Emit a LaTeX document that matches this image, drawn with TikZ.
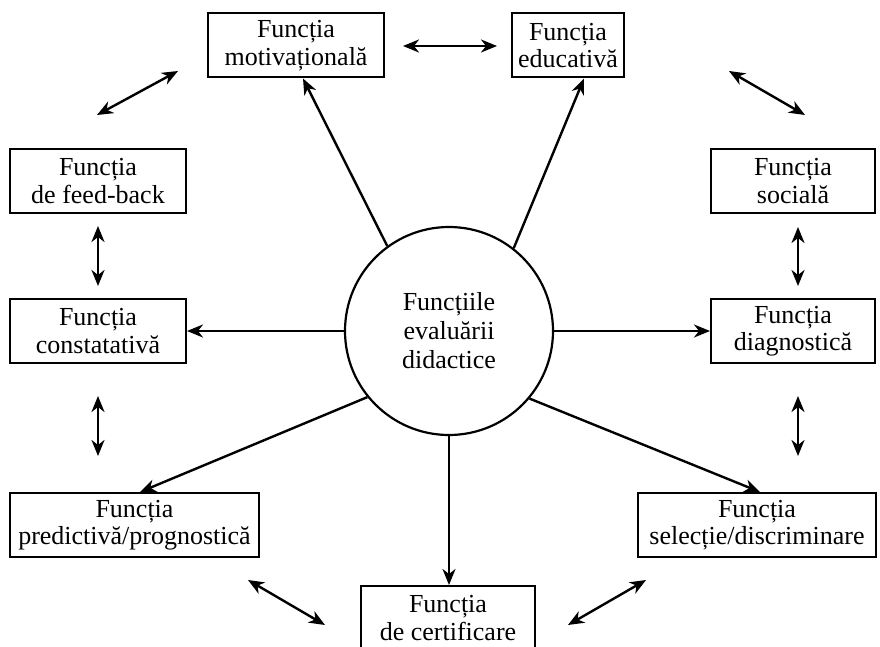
\documentclass[tikz,border=0pt]{standalone}
\usepackage{fontspec}
\setmainfont{Liberation Serif}
\usetikzlibrary{arrows.meta}
\begin{document}
\begin{tikzpicture}[x=1pt,y=-1pt,
  every node/.style={font=\fontsize{26}{27.5}\selectfont, align=center, inner sep=0pt},
  fbox/.style={draw, line width=2pt, minimum height=64pt},
  hub/.style={draw, circle, line width=2.2pt, minimum size=208pt, font=\fontsize{26}{29}\selectfont},
  tip/.tip={Stealth[length=16pt,width=13pt,inset=5pt]},
  link/.style={line width=2.4pt, -tip},
  dlink/.style={line width=2.4pt, tip-tip}]
\useasboundingbox (0,0) rectangle (880,647);
\clip (0,0) rectangle (880,647);

% central hub
\node[hub] (c) at (449,331) {Funcțiile\\evaluării\\didactice};

% surrounding functions
\node[fbox, minimum width=176pt] (mot) at (296,45.5) {Funcția\\motivațională};
\node[fbox, minimum width=112pt] (edu) at (568,45.5) {Funcția\\educativă};
\node[fbox, minimum width=176pt] (feed) at (98,181) {Funcția\\de feed-back};
\node[fbox, minimum width=176pt] (cons) at (98,331) {Funcția\\constatativă};
\node[fbox, minimum width=164pt] (soc) at (793,181) {Funcția\\socială};
\node[fbox, minimum width=164pt] (diag) at (793,331) {Funcția\\diagnostică};
\node[fbox, minimum width=249pt] (pred) at (134.5,525) {Funcția\\predictivă/prognostică};
\node[fbox, minimum width=238pt] (sel) at (757,525) {Funcția\\selecție/discriminare};
\node[fbox, minimum width=174pt] (cert) at (448,618) {Funcția\\de certificare};

% arrows from the hub
\draw[link] (c.126.5) -- ([xshift=7pt]mot.south);
\draw[link] (c.52.6) -- ([xshift=16pt]edu.south);
\draw[link] (c.west) -- (cons.east);
\draw[link] (c.east) -- (diag.east -| diag.west);
\draw[link] (c.219.6) -- ([xshift=5.5pt]pred.north);
\draw[link] (c.320.4) -- ([xshift=3pt]sel.north);
\draw[link] (c.south) -- (c.south |- cert.north);

% links between neighbouring functions
\coordinate (a1) at (403,46);   \coordinate (b1) at (497,46);
\coordinate (a2) at (178,71);   \coordinate (b2) at (97,115);
\coordinate (a3) at (729,71);   \coordinate (b3) at (805,115);
\coordinate (a4) at (98,226);   \coordinate (b4) at (98,286);
\coordinate (a5) at (98,396);   \coordinate (b5) at (98,456);
\coordinate (a6) at (798,227);  \coordinate (b6) at (798,286);
\coordinate (a7) at (798,396);  \coordinate (b7) at (798,456);
\coordinate (a8) at (248,580);  \coordinate (b8) at (325,625);
\coordinate (a9) at (568,625);  \coordinate (b9) at (646,580);
\foreach \i in {1,...,9} \draw[dlink] (a\i) -- (b\i);
\end{tikzpicture}
\end{document}
